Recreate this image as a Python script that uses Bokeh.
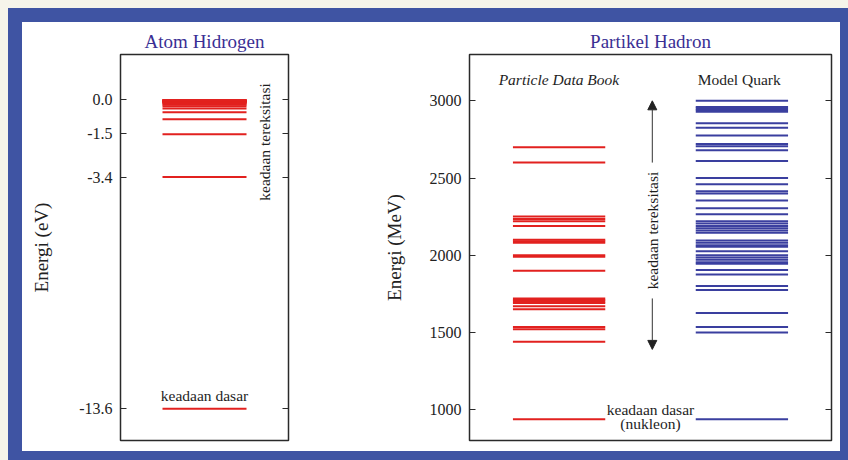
from math import pi
from bokeh.plotting import figure
from bokeh.layouts import row
from bokeh.models import ColumnDataSource, FixedTicker, LinearAxis, Range1d, Arrow, NormalHead
from bokeh.core.properties import value
from bokeh.embed import file_html
from bokeh.resources import INLINE

# ---------------- data ----------------
# Hydrogen atom energy levels (eV)
h_levels = [-13.6, -3.4, -1.51, -0.85, -0.54, -0.38, -0.28, -0.21, -0.17, -0.14,
            -0.11, -0.09, -0.08, -0.07, -0.06, -0.05, -0.04, -0.03, -0.02, -0.01, 0.0]
h_ticks = [0.0, -1.5, -3.4, -13.6]
h_tick_labels = ["0.0", "-1.5", "-3.4", "-13.6"]

# Hadron (nucleon) levels (MeV)
pdb_levels = [938, 1440, 1520, 1535, 1650, 1670, 1690, 1700, 1710, 1720, 1900, 1990, 2000,
              2080, 2090, 2100, 2190, 2220, 2235, 2250, 2600, 2700]
quark_levels = [938, 1500, 1535, 1625, 1775, 1800, 1875, 1905, 1945, 1955, 1970, 1985, 2000,
                2025, 2055, 2065, 2080, 2095, 2145, 2160, 2175, 2190, 2205, 2220, 2265,
                2305, 2355, 2400, 2415, 2460, 2500, 2610, 2680, 2705, 2720, 2775, 2825,
                2855, 2930, 2940, 2950, 2960, 3000]
hadron_ticks = [1000, 1500, 2000, 2500, 3000]

# ---------------- style ----------------
FONT = "Liberation Serif"
RED = "#e2211f"
BLUE = "#3a3f9f"
FRAME_BLUE = "#3f54a3"
CREAM = "#f6f4ea"
TITLE_COLOR = "#3a2f94"
INK = "#2a2a2a"
H = 460


def make_fig(w, yr, left, right, title):
    p = figure(width=w, height=H, x_range=Range1d(0, 1), y_range=yr,
               x_axis_location=None, output_backend="svg", toolbar_location=None,
               min_border_left=left, min_border_right=right,
               min_border_top=54, min_border_bottom=20, title=title)
    p.border_fill_color = None
    p.background_fill_color = "white"
    p.outline_line_color = INK
    p.outline_line_width = 1.5
    p.grid.visible = False
    p.title.align = "center"
    p.title.text_font = FONT
    p.title.text_font_size = "19px"
    p.title.text_font_style = "normal"
    p.title.text_color = TITLE_COLOR
    p.title.standoff = 6
    return p


def style_axis(ax, ticks, label, standoff_label):
    ax.ticker = FixedTicker(ticks=ticks)
    ax.major_tick_in = 6
    ax.major_tick_out = 0
    ax.minor_tick_line_color = None
    ax.axis_line_color = None
    ax.major_tick_line_color = INK
    ax.major_tick_line_width = 1.2
    ax.major_label_text_font = FONT
    ax.major_label_text_font_size = "16px"
    ax.major_label_text_color = "#222222"
    ax.major_label_standoff = 8
    ax.axis_label = label
    ax.axis_label_text_font = FONT
    ax.axis_label_text_font_size = "19px"
    ax.axis_label_text_font_style = "normal"
    ax.axis_label_text_color = "#222222"
    ax.axis_label_standoff = standoff_label


def mirror_axis(p, ticks):
    ax = LinearAxis(ticker=FixedTicker(ticks=ticks), major_tick_in=6, major_tick_out=0,
                    minor_tick_line_color=None, axis_line_color=None,
                    major_tick_line_color=INK, major_tick_line_width=1.2,
                    major_label_text_font_size="0px", major_label_standoff=0,
                    major_label_overrides={t: "" for t in ticks})
    p.add_layout(ax, "right")


# ---------------- left: hydrogen ----------------
p1 = make_fig(380, Range1d(-15, 2), 120, 92, "Atom Hidrogen")
style_axis(p1.yaxis[0], h_ticks, "Energi (eV)", 24)
p1.yaxis[0].major_label_overrides = dict(zip(h_ticks, h_tick_labels))
mirror_axis(p1, h_ticks)

src_h = ColumnDataSource(dict(E=h_levels))
p1.segment(x0=0.25, x1=0.75, y0="E", y1="E", source=src_h, line_color=RED, line_width=2)

p1.text(x=[0.86], y=[-1.85], text=["keadaan tereksitasi"], angle=pi / 2,
        text_align="center", text_baseline="middle", text_font=value(FONT),
        text_font_size="15.5px", text_color="#1e1e1e")
p1.text(x=[0.5], y=[-13.0], text=["keadaan dasar"], text_align="center",
        text_baseline="middle", text_font=value(FONT), text_font_size="15.5px",
        text_color="#1e1e1e")

# ---------------- right: hadrons ----------------
p2 = make_fig(468, Range1d(800, 3300), 87, 17, "Partikel Hadron")
style_axis(p2.yaxis[0], hadron_ticks, "Energi (MeV)", 22)
mirror_axis(p2, hadron_ticks)

src_pdb = ColumnDataSource(dict(E=pdb_levels))
src_q = ColumnDataSource(dict(E=quark_levels))
p2.segment(x0=0.12, x1=0.375, y0="E", y1="E", source=src_pdb, line_color=RED, line_width=2)
p2.segment(x0=0.625, x1=0.88, y0="E", y1="E", source=src_q, line_color=BLUE, line_width=2)

p2.text(x=[0.247], y=[3140], text=["Particle Data Book"], text_align="center",
        text_baseline="middle", text_font=value(FONT), text_font_size="15.5px",
        text_font_style="italic", text_color="#1e1e1e")
p2.text(x=[0.745], y=[3140], text=["Model Quark"], text_align="center",
        text_baseline="middle", text_font=value(FONT), text_font_size="15.5px",
        text_color="#1e1e1e")
p2.text(x=[0.5, 0.5], y=[1000, 908], text=["keadaan dasar", "(nukleon)"],
        text_align="center", text_baseline="middle", text_font=value(FONT),
        text_font_size="15.5px", text_color="#1e1e1e")
p2.text(x=[0.505], y=[2160], text=["keadaan tereksitasi"], angle=pi / 2,
        text_align="center", text_baseline="middle", text_font=value(FONT),
        text_font_size="15.5px", text_color="#1e1e1e")

for ys, ye in [(2600, 3000), (1720, 1390)]:
    p2.add_layout(Arrow(end=NormalHead(size=9, fill_color="#222222", line_color="#222222"),
                        x_start=0.505, y_start=ys, x_end=0.505, y_end=ye,
                        line_color="#333333", line_width=1))

# ---------------- blue frame via CSS inset shadows ----------------
p1.styles = {"box-shadow": (f"inset 8px 8px 0 0 {CREAM}, inset 22px 22px 0 0 {FRAME_BLUE}, "
                            f"inset 0 -9px 0 0 {FRAME_BLUE}"),
             "background-color": "white"}
p2.styles = {"box-shadow": (f"inset 0 8px 0 0 {CREAM}, inset -8px 22px 0 0 {FRAME_BLUE}, "
                            f"inset 0 -9px 0 0 {FRAME_BLUE}"),
             "background-color": "white"}

layout = row(p1, p2)
open("out.html", "w").write(file_html(layout, INLINE))
